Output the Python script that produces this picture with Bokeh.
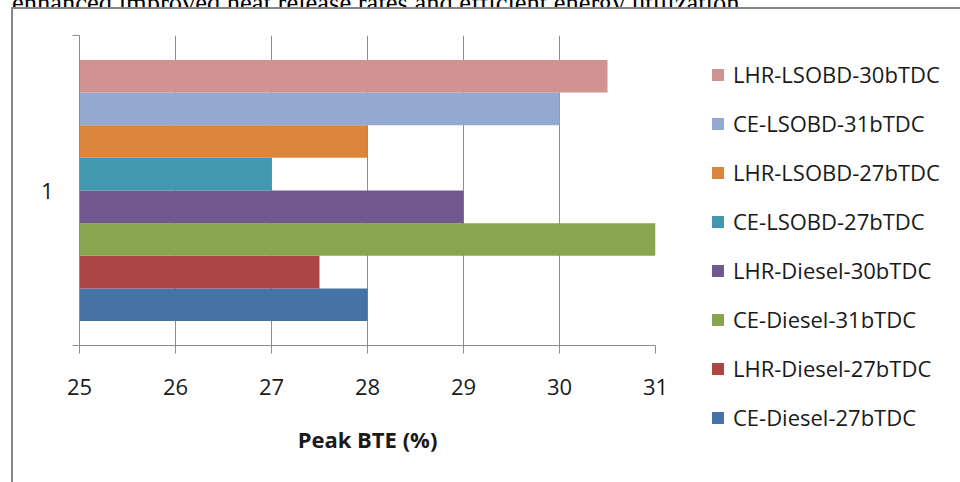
from bokeh.plotting import figure
from bokeh.models import (FixedTicker, Legend, LegendItem, Range1d, ColumnDataSource, Div)
from bokeh.layouts import column
from bokeh.embed import file_html
from bokeh.resources import INLINE

# ---- data (bottom to top) ----
series = ["CE-Diesel-27bTDC", "LHR-Diesel-27bTDC", "CE-Diesel-31bTDC", "LHR-Diesel-30bTDC",
          "CE-LSOBD-27bTDC", "LHR-LSOBD-27bTDC", "CE-LSOBD-31bTDC", "LHR-LSOBD-30bTDC"]
values = [28.0, 27.5, 31.0, 29.0, 27.0, 28.0, 30.0, 30.5]
colors = ["#4572A7", "#AA4643", "#89A54E", "#71588F", "#4198AF", "#DB843D", "#93A9CF", "#D19392"]
category = ["1"]
x_ticks = [25, 26, 27, 28, 29, 30, 31]
x_title = "Peak BTE (%)"
caption = "enhanced improved heat release rates and efficient energy utilization."

FONT = "Open Sans"
GRID = "#8c8c8c"

p = figure(width=947, height=473,
           frame_width=574, frame_height=308, min_border_left=66, min_border_top=26,
           min_border_right=307, min_border_bottom=139,
           x_range=Range1d(25, 31), y_range=Range1d(0, 1),
           output_backend="svg", toolbar_location=None, background_fill_color="white",
           border_fill_color="white")
p.outline_line_color = None
p.margin = (0, 0, 0, 11)
p.styles = {"border-top": "2px solid #868686", "border-left": "2px solid #868686"}

n = len(series)
bar_h = 1.0 / (n + 1.5)
items = []
for i, (s, v, c) in enumerate(zip(series, values, colors)):
    yc = 0.5 + (i - (n - 1) / 2) * bar_h
    src = ColumnDataSource(dict(y=[yc], right=[v], left=[x_ticks[0]]))
    r = p.hbar(y="y", left="left", right="right", height=bar_h, source=src,
               fill_color=c, line_color=None)
    items.append(LegendItem(label=s, renderers=[r]))

# x axis
xa = p.xaxis[0]
xa.ticker = FixedTicker(ticks=x_ticks)
xa.axis_line_color = GRID
xa.major_tick_line_color = GRID
xa.major_tick_out = 8
xa.major_tick_in = 0
xa.minor_tick_line_color = None
xa.major_label_text_font = FONT
xa.major_label_text_font_size = "22px"
xa.major_label_text_color = "#1a1a1a"
xa.major_label_standoff = 25
xa.axis_label = x_title
xa.axis_label_text_font = FONT
xa.axis_label_text_font_style = "bold"
xa.axis_label_text_font_size = "22px"
xa.axis_label_text_color = "#1a1a1a"
xa.axis_label_standoff = 26

# y axis (single category "1")
ya = p.yaxis[0]
ya.ticker = FixedTicker(ticks=[0.5], minor_ticks=[0, 1])
ya.major_label_overrides = {0.5: category[0]}
ya.axis_line_color = GRID
ya.major_tick_line_color = None
ya.major_tick_out = 0
ya.major_tick_in = 0
ya.minor_tick_line_color = GRID
ya.minor_tick_out = 7
ya.minor_tick_in = 0
ya.major_label_text_font = FONT
ya.major_label_text_font_size = "22px"
ya.major_label_text_color = "#1a1a1a"
ya.major_label_standoff = 19

p.xgrid.grid_line_color = GRID
p.xgrid.ticker = FixedTicker(ticks=x_ticks)
p.ygrid.grid_line_color = None

items = items[::-1]
legend = Legend(items=items, location=(55, -87), orientation="vertical",
                label_text_font=FONT, label_text_font_size="22px", label_text_color="#1a1a1a",
                glyph_width=15, glyph_height=15, label_height=22, label_standoff=8,
                spacing=19, padding=0, margin=0, border_line_color=None,
                background_fill_alpha=0)
p.add_layout(legend, "right")

cap = Div(text=('<div style="margin-top:-18px;font-family:\'Liberation Serif\';font-size:26.5px;'
                'line-height:26.5px;white-space:nowrap;color:#000">' + caption + '</div>'),
          width=948, height=7, margin=(0, 0, 0, 12), styles={"overflow": "hidden"})

layout = column(cap, p, spacing=0)
open("out.html", "w").write(file_html(layout, INLINE))
